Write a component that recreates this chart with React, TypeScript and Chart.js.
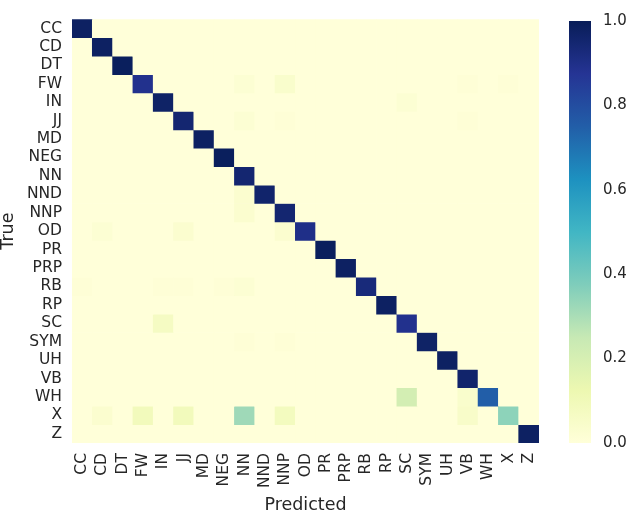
import React, { useEffect, useRef } from 'react';
import { Chart, registerables } from 'chart.js';

Chart.register(...registerables);

const trueLabels = ['CC', 'CD', 'DT', 'FW', 'IN', 'JJ', 'MD', 'NEG', 'NN', 'NND', 'NNP', 'OD', 'PR', 'PRP', 'RB', 'RP', 'SC', 'SYM', 'UH', 'VB', 'WH', 'X', 'Z'];
const predictedLabels = ['CC', 'CD', 'DT', 'FW', 'IN', 'JJ', 'MD', 'NEG', 'NN', 'NND', 'NNP', 'OD', 'PR', 'PRP', 'RB', 'RP', 'SC', 'SYM', 'UH', 'VB', 'WH', 'X', 'Z'];

// normalised confusion values on the diagonal (true == predicted)
const diagonalValues = [0.98, 0.98, 0.99, 0.89, 0.97, 0.95, 0.98, 0.99, 0.95, 0.96, 0.95, 0.9, 0.99, 0.98, 0.93, 0.98, 0.89, 0.97, 0.98, 0.96, 0.75, 0.35, 0.98];

// off-diagonal confusion: [trueIndex, predictedIndex, value]
const offDiagonal: [number, number, number][] = [
  [3, 8, 0.02], [3, 10, 0.04], [3, 19, 0.01], [3, 21, 0.01],
  [4, 16, 0.02],
  [5, 8, 0.02], [5, 10, 0.01], [5, 19, 0.01],
  [9, 8, 0.03],
  [10, 8, 0.03],
  [11, 1, 0.02], [11, 5, 0.03], [11, 10, 0.03],
  [14, 0, 0.01], [14, 4, 0.01], [14, 5, 0.01], [14, 7, 0.01], [14, 8, 0.02],
  [16, 4, 0.07],
  [17, 8, 0.01], [17, 10, 0.01],
  [20, 16, 0.21], [20, 19, 0.04],
  [21, 1, 0.03], [21, 3, 0.09], [21, 5, 0.09], [21, 8, 0.32], [21, 10, 0.08], [21, 19, 0.05],
];

const colorbarTicks = [0, 0.2, 0.4, 0.6, 0.8, 1.0];

const YLGNBU = ['#ffffd9', '#edf8b1', '#c7e9b4', '#7fcdbb', '#41b6c4', '#1d91c0', '#225ea8', '#253494', '#081d58'];

function hexToRgb(h: string) {
  return [parseInt(h.slice(1, 3), 16), parseInt(h.slice(3, 5), 16), parseInt(h.slice(5, 7), 16)];
}

function cmap(v: number) {
  const t = Math.max(0, Math.min(1, v)) * (YLGNBU.length - 1);
  const i = Math.min(YLGNBU.length - 2, Math.floor(t));
  const f = t - i;
  const a = hexToRgb(YLGNBU[i]);
  const b = hexToRgb(YLGNBU[i + 1]);
  const c = a.map((x, k) => Math.round(x + (b[k] - x) * f));
  return `rgb(${c[0]},${c[1]},${c[2]})`;
}

function buildMatrix() {
  const m = trueLabels.map(() => predictedLabels.map(() => 0));
  diagonalValues.forEach((v, i) => { m[i][i] = v; });
  offDiagonal.forEach(([r, c, v]) => { m[r][c] = v; });
  return m;
}

const FONT = 'DejaVu Sans';
const TEXT = '#262626';

export default function App() {
  const mainRef = useRef<HTMLCanvasElement>(null);
  const barRef = useRef<HTMLCanvasElement>(null);

  useEffect(() => {
    const matrix = buildMatrix();
    const datasets = trueLabels.map((_, r) => ({
      label: trueLabels[r],
      data: predictedLabels.map(() => [r - 0.5, r + 0.5]),
      backgroundColor: predictedLabels.map((_, c) => cmap(matrix[r][c])),
      borderWidth: 0,
      grouped: false,
      barPercentage: 1,
      categoryPercentage: 1,
    }));

    const main = new Chart(mainRef.current!, {
      type: 'bar',
      data: { labels: predictedLabels, datasets: datasets as any },
      options: {
        responsive: false,
        animation: false,
        layout: { padding: { top: 8, right: 21, left: 0, bottom: 0 } },
        plugins: { legend: { display: false }, tooltip: { enabled: false } },
        scales: {
          x: {
            type: 'category',
            grid: { display: false, drawTicks: false },
            border: { display: false },
            ticks: {
              autoSkip: false,
              minRotation: 90,
              maxRotation: 90,
              padding: 10,
              color: TEXT,
              font: { family: FONT, size: 15.5 },
            },
            title: {
              display: true,
              text: 'Predicted',
              color: TEXT,
              padding: 0,
              font: { family: FONT, size: 17.5, lineHeight: 1.0 },
            },
            afterFit: (axis: any) => { axis.height = 71; },
          },
          y: {
            type: 'linear',
            min: -0.5,
            max: 22.5,
            reverse: true,
            grid: { display: false, drawTicks: false },
            border: { display: false },
            afterBuildTicks: (axis: any) => {
              axis.ticks = trueLabels.map((_, i) => ({ value: i }));
            },
            ticks: {
              autoSkip: false,
              padding: 10,
              color: TEXT,
              font: { family: FONT, size: 15.5 },
              callback: (v: any) => trueLabels[Number(v)] ?? '',
            },
            title: {
              display: true,
              text: 'True',
              color: TEXT,
              padding: 0,
              font: { family: FONT, size: 17.5, lineHeight: 1.0 },
            },
            afterFit: (axis: any) => { axis.width = 72; },
          },
        },
      } as any,
    });

    const bar = new Chart(barRef.current!, {
      type: 'bar',
      data: {
        labels: [''],
        datasets: [{
          data: [[0, 1]],
          borderWidth: 0,
          barPercentage: 1,
          categoryPercentage: 1,
          backgroundColor: (ctx: any) => {
            const area = ctx.chart.chartArea;
            if (!area) return YLGNBU[0];
            const g = ctx.chart.ctx.createLinearGradient(0, area.bottom, 0, area.top);
            YLGNBU.forEach((c, i) => g.addColorStop(i / (YLGNBU.length - 1), c));
            return g;
          },
        }] as any,
      },
      options: {
        responsive: false,
        animation: false,
        layout: { padding: { top: 8, left: 9, right: 0, bottom: 71 } },
        plugins: { legend: { display: false }, tooltip: { enabled: false } },
        scales: {
          x: { display: false },
          y: {
            position: 'right',
            min: 0,
            max: 1,
            grid: { display: false, drawTicks: false },
            border: { display: false },
            afterBuildTicks: (axis: any) => {
              axis.ticks = colorbarTicks.map((v) => ({ value: v }));
            },
            ticks: {
              padding: 12,
              color: TEXT,
              font: { family: FONT, size: 15 },
              callback: (v: any) => Number(v).toFixed(1),
            },
            afterFit: (axis: any) => { axis.width = 37; },
          },
        },
      } as any,
    });

    return () => {
      main.destroy();
      bar.destroy();
    };
  }, []);

  return (
    <div style={{ position: 'absolute', left: 0, top: 0, width: 628, height: 514, background: '#fff' }}>
      <canvas ref={mainRef} width={560} height={514} style={{ position: 'absolute', left: 0, top: 0 }} />
      <canvas ref={barRef} width={68} height={514} style={{ position: 'absolute', left: 560, top: 0 }} />
    </div>
  );
}
